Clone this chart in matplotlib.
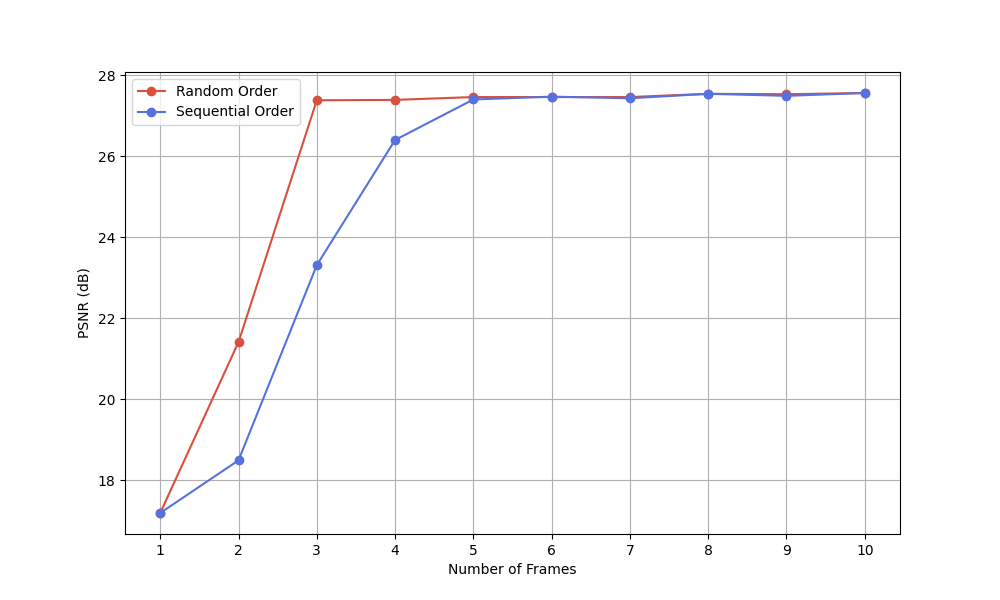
import numpy as np
import matplotlib.pyplot as plt

# PSNR vs number of frames
frames = [1, 2, 3, 4, 5, 6, 7, 8, 9, 10]
psnr_random = [17.19, 21.41, 27.38, 27.39, 27.46, 27.46, 27.46, 27.54, 27.53, 27.56]
psnr_sequential = [17.19, 18.49, 23.31, 26.40, 27.40, 27.47, 27.43, 27.54, 27.49, 27.56]

fig, ax = plt.subplots(figsize=(10, 6), dpi=100)
ax.plot(frames, psnr_random, marker='o', color='#d9503f', label='Random Order')
ax.plot(frames, psnr_sequential, marker='o', color='#5672e0', label='Sequential Order')
ax.set_xlabel("Number of Frames")
ax.set_ylabel("PSNR (dB)")
ax.set_xticks(frames)
ax.grid(True)
ax.legend(loc='upper left')
plt.savefig("out.png")
